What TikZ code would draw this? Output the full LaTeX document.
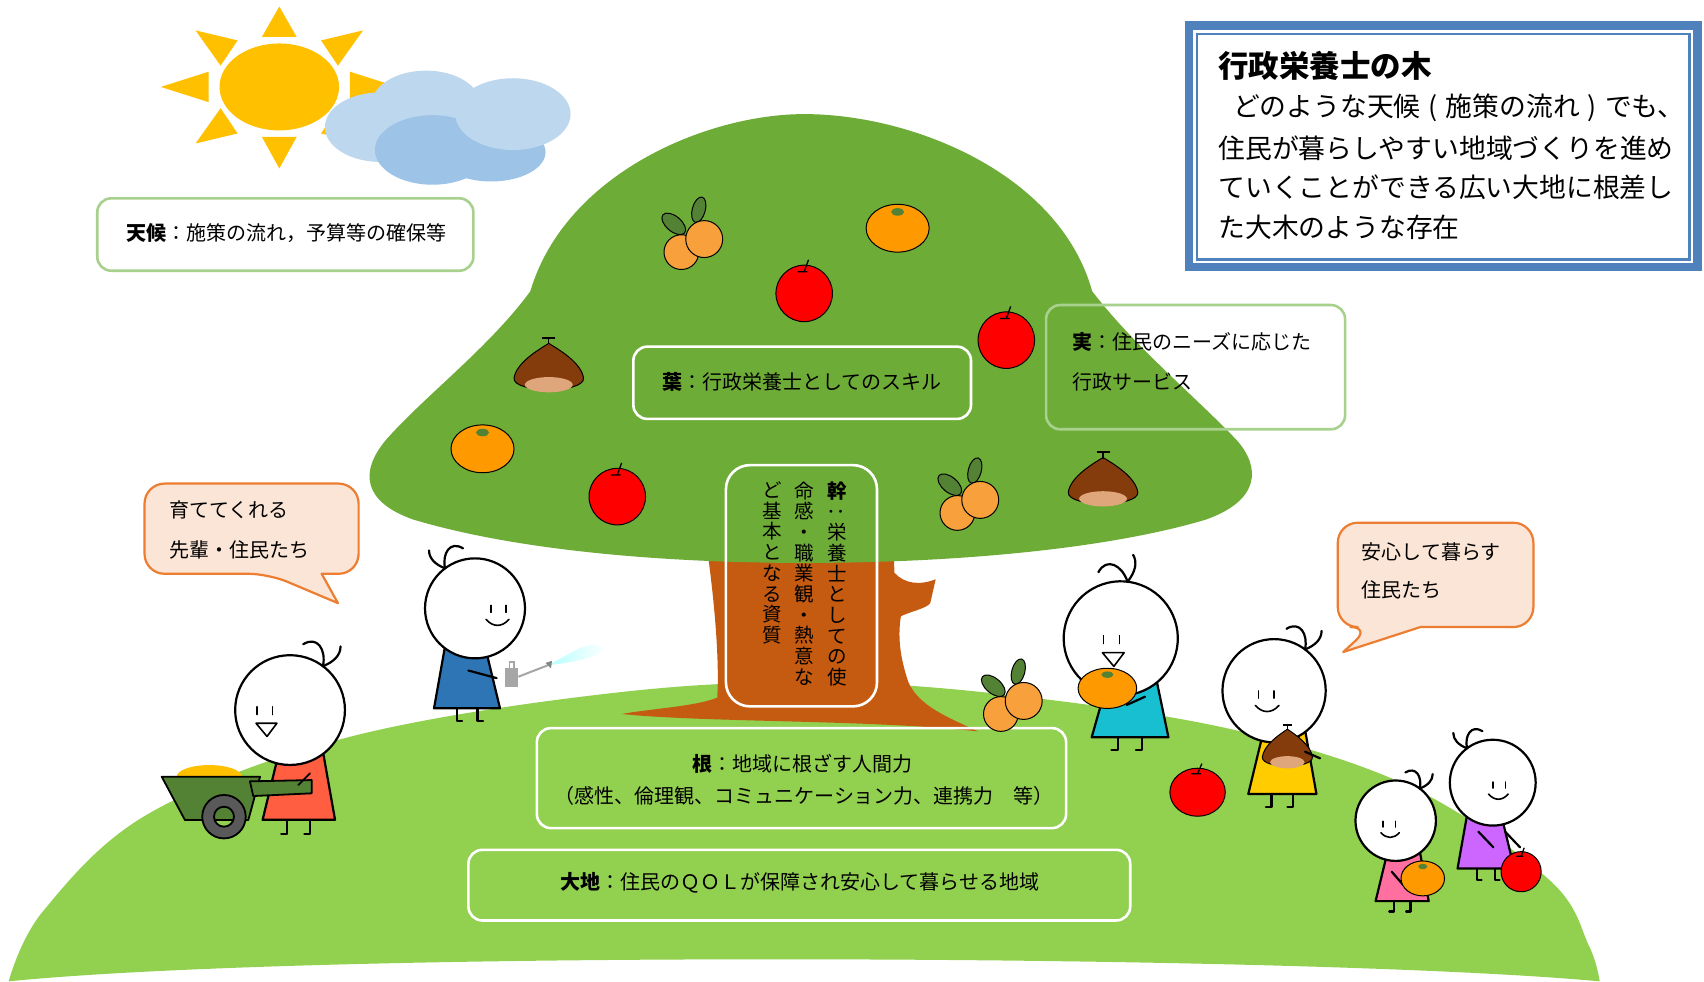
\documentclass[tikz,border=0pt]{standalone}
\usepackage{fontspec}
\setmainfont{Noto Sans CJK JP}
\usepackage{graphicx}
\definecolor{groundgreen}{HTML}{92D050}
\definecolor{crowngreen}{HTML}{6EAC38}
\definecolor{trunkbrown}{HTML}{C55A11}
\definecolor{sunyellow}{HTML}{FFC000}
\definecolor{cloudlight}{HTML}{BDD7EE}
\definecolor{clouddark}{HTML}{9DC3E6}
\definecolor{frameblue}{HTML}{4F81BD}
\definecolor{softgreen}{HTML}{A9D18E}
\definecolor{bubblefill}{HTML}{FBE5D6}
\definecolor{bubbleline}{HTML}{ED7D31}
\definecolor{applered}{HTML}{FF0000}
\definecolor{mikanorange}{HTML}{FF9900}
\definecolor{kakiorange}{HTML}{F8A03C}
\definecolor{leafgreen}{HTML}{548235}
\definecolor{kuribrown}{HTML}{843C0C}
\definecolor{kuricap}{HTML}{DFA67B}
\definecolor{wheelgray}{HTML}{595959}
\definecolor{cangray}{HTML}{A6A6A6}
\definecolor{kidred}{HTML}{FF5E40}
\definecolor{kidblue}{HTML}{2E75B6}
\definecolor{kidcyan}{HTML}{17BFD0}
\definecolor{kidyellow}{HTML}{FFCC00}
\definecolor{kidpink}{HTML}{FF6FA0}
\definecolor{kidpurple}{HTML}{CC66FF}
\begin{document}
\begin{tikzpicture}[x=1.0867pt,y=-1.0867pt,
  kidline/.style={line width=2.2pt, black, line cap=round, line join=round},
  thinline/.style={line width=1.6pt, black, line cap=round, line join=round},
  fruitline/.style={line width=1pt, black},
  box/.style={rounded corners=14pt, line width=2.6pt},
  bubble/.style={line width=2.2pt, draw=bubbleline, fill=bubblefill, line join=round},
  txt/.style={inner sep=0pt, font=\fontsize{20}{24}\selectfont},
  bodytxt/.style={inner sep=0pt, anchor=west, font=\fontsize{26.8}{30}\selectfont},
  vtxt/.style={inner sep=0pt, anchor=north, align=center, font=\fontsize{19.5}{20.7}\selectfont},
  pics/kidhead/.style={code={
    \draw[kidline, fill=white] (0,0) circle[radius=50];
    \draw[kidline] (30,-40) .. controls (33,-55) and (25,-68) .. (12,-60);
    \draw[kidline] (30,-40) .. controls (40,-44) and (46,-50) .. (46,-58);
  }},
  pics/beakface/.style={code={
    \draw[thinline] (-30,-3)--(-30,4) (-16,-3)--(-16,4);
    \draw[thinline, fill=white] (-31,12)--(-12,12)--(-21,24)--cycle;
  }},
  pics/smileface/.style={code={
    \draw[thinline] (-31,-3)--(-31,4) (-16,-3)--(-16,4);
    \draw[thinline] (-34,11) .. controls (-27,19) and (-18,19) .. (-11,11);
  }},
  pics/kidbody/.style={code={
    \draw[kidline] (-2.5,100)--(-2.5,113)--(-8,113) (18.4,100)--(18.4,113)--(13,113);
    \draw[kidline, fill=#1] (-10,38)--(30,38)--(41,100)--(-25,100)--cycle;
  }},
  pics/apple/.style={code={
    \draw[fruitline, fill=applered] (0,0) circle[radius=26];
    \draw[line width=1.3pt] (-6,-20)--(3,-20) (0,-20)--(4,-31);
  }},
  pics/mikan/.style={code={
    \draw[fruitline, fill=mikanorange] (0,0) ellipse[x radius=29, y radius=22];
    \fill[leafgreen] (0,-15) ellipse[x radius=6, y radius=3.5];
  }},
  pics/kaki/.style={code={
    \draw[fruitline, fill=leafgreen, rotate around={-40:(-16,-9)}] (-16,-9) ellipse[x radius=13, y radius=7];
    \draw[fruitline, fill=leafgreen, rotate around={75:(7,-22)}] (7,-22) ellipse[x radius=12, y radius=6];
    \draw[fruitline, fill=kakiorange] (-9,17) circle[radius=16];
    \draw[fruitline, fill=kakiorange] (12,5) circle[radius=17];
  }},
  pics/kuri/.style={code={
    \draw[fruitline, fill=kuribrown] (0,-24) .. controls (-10,-18) and (-30,-6) .. (-32,8) .. controls (-33,22) and (33,22) .. (32,8) .. controls (30,-6) and (10,-18) .. (0,-24) -- cycle;
    \fill[kuricap] (0,14) ellipse[x radius=22, y radius=7];
    \draw[line width=1.3pt] (-6,-29)--(6,-29) (0,-29)--(0,-23);
  }}
]
\useasboundingbox (0,0) rectangle (1568,903);
\fill[white] (0,0) rectangle (1568,903);

% ground hill
\fill[groundgreen] plot[smooth, tension=0.6] coordinates {(8,903) (40,838) (138,748) (322,678) (570,637) (770,628) (966,644) (1150,675) (1304,727) (1426,810) (1462,870) (1472,903)}
  .. controls (1200,878) and (300,874) .. (8,903) -- cycle;

% trunk
\fill[trunkbrown] (650,490) -- (652,515) .. controls (658,560) and (662,610) .. (660,642)
  .. controls (640,650) and (600,652) .. (572,657) .. controls (650,665) and (800,662) .. (900,673)
  .. controls (872,660) and (846,650) .. (836,628) .. controls (828,605) and (826,585) .. (829,567)
  .. controls (840,562) and (852,560) .. (856,555) -- (861,533)
  .. controls (846,539) and (832,537) .. (823,527) -- (822,490) -- cycle;

% crown
\fill[crowngreen] (740,105) .. controls (650,105) and (520,160) .. (488,268)
  .. controls (450,320) and (390,365) .. (355,405) .. controls (330,435) and (335,462) .. (380,478)
  .. controls (480,508) and (620,518) .. (740,518) .. controls (880,518) and (1020,505) .. (1110,478)
  .. controls (1160,460) and (1160,430) .. (1138,405) .. controls (1100,365) and (1045,320) .. (1005,268)
  .. controls (975,160) and (840,105) .. (740,105) -- cycle;

% sun
\fill[sunyellow] (257,80) ellipse[x radius=55, y radius=40];
\fill[sunyellow] (257,6)--(241,34)--(273,34)--cycle;
\fill[sunyellow] (257,155)--(241,126)--(273,126)--cycle;
\fill[sunyellow] (148,80)--(192,66)--(192,94)--cycle;
\fill[sunyellow] (366,80)--(322,66)--(322,94)--cycle;
\fill[sunyellow] (180,28)--(218.6,37.2)--(203,60.4)--cycle;
\fill[sunyellow] (334,28)--(295.4,37.2)--(311,60.4)--cycle;
\fill[sunyellow] (180,132)--(218.6,122.8)--(203,99.6)--cycle;
\fill[sunyellow] (334,132)--(295.4,122.8)--(311,99.6)--cycle;

% clouds
\fill[cloudlight] (350,117) ellipse[x radius=51, y radius=32];
\fill[cloudlight] (392,96) ellipse[x radius=50, y radius=31];
\fill[clouddark] (398,138) ellipse[x radius=53, y radius=32];
\fill[clouddark] (452,140) ellipse[x radius=50, y radius=27];
\fill[cloudlight] (472,105) ellipse[x radius=53, y radius=33];

% title panel
\fill[white] (1094.3,23.5) rectangle (1562,246);
\draw[frameblue, line width=8.2pt] (1094.3,23.5) rectangle (1562,246);
\draw[frameblue, line width=2.4pt] (1101.6,31.1) rectangle (1554.8,238.7);
\node[inner sep=0pt, anchor=west, font=\fontsize{30.5}{34}\selectfont\bfseries] (title) at (1121,61) {行政栄養士の木};
\node[bodytxt] (line1) at (1121,99) {\hspace{0.55em}どのような天候\hspace{0.3em}(\hspace{0.3em}施策の流れ\hspace{0.3em})\hspace{0.3em}でも、};
\node[bodytxt] (line2) at (1121,136) {住民が暮らしやすい地域づくりを進め};
\node[bodytxt] (line3) at (1121,172.5) {ていくことができる広い大地に根差し};
\node[bodytxt] (line4) at (1121,209) {た大木のような存在};

% weather box
\draw[box, draw=softgreen, fill=white] (89.5,182.5) rectangle (435.6,249.1);
\node[txt, anchor=west] (weathertxt) at (116.6,214) {\textbf{天候}：施策の流れ，予算等の確保等};

% leaf box
\draw[box, draw=white] (582.8,319) rectangle (893.5,385.5);
\node[txt] (leaftxt) at (738,351) {\textbf{葉}：行政栄養士としてのスキル};

% fruit box
\draw[box, draw=softgreen] (962.6,280.7) rectangle (1237.7,395);
\node[txt, anchor=west] (fruittxt1) at (987,315) {\textbf{実}：住民のニーズに応じた};
\node[txt, anchor=west] (fruittxt2) at (987,351) {行政サービス};

% trunk box with vertical text
\draw[box, rounded corners=24pt, draw=white] (668,428) rectangle (807,650);
\node[vtxt] (trunkcol1) at (770,443) {\textbf{幹}\\\rotatebox[origin=c]{90}{：}\\栄\\養\\士\\と\\し\\て\\の\\使};
\node[vtxt] (trunkcol2) at (740,443) {命\\感\\・\\職\\業\\観\\・\\熱\\意\\な};
\node[vtxt] (trunkcol3) at (711,443) {ど\\基\\本\\と\\な\\る\\資\\質};

% root box
\draw[box, draw=white] (494,670) rectangle (981,762);
\node[txt] (roottxt1) at (738,703) {\textbf{根}：地域に根ざす人間力};
\node[txt] (roottxt2) at (740,732) {（感性、倫理観、コミュニケーション力、連携力　等）};

% ground box
\draw[box, draw=white] (431,782) rectangle (1040,847);
\node[txt] (groundtxt) at (736,812) {\textbf{大地}：住民のＱＯＬが保障され安心して暮らせる地域};

% fruits on the crown
\path (636,215) pic {kaki};
\path (826,210) pic {mikan};
\path (740,270) pic {apple};
\path (926,313) pic {apple};
\path (505,340) pic {kuri};
\path (444,413) pic {mikan};
\path (568,457) pic {apple};
\path (890,455) pic {kaki};
\path (1015,445) pic {kuri};

% fruits on the ground
\path (930,640) pic {kaki};
\path (1102,729) pic[xscale=0.98, yscale=0.85] {apple};

% child with the wheelbarrow
\path (266.9,653.4) pic[scale=1.01] {kidbody=kidred};
\path (266.9,653.4) pic[scale=1.01] {kidhead};
\path (266.9,653.4) pic[scale=1.01] {beakface};
\fill[sunyellow] (192.6,714.7) ellipse[x radius=30, y radius=10.7];
\draw[kidline, line width=1.8pt, fill=leafgreen] (148.8,714.7)--(239.3,714.7)--(228.5,754.6)--(170.2,754.6)--cycle;
\draw[kidline, line width=1.8pt, fill=leafgreen] (230,719)--(286.8,717.8)--(286.8,730)--(233,732.5)--cycle;
\draw[line width=1.8pt, fill=wheelgray, even odd rule] (206.1,751.5) circle[radius=20] (206.1,751.5) circle[radius=9.2];
\draw[kidline, line width=1.8pt] (274.5,722.4)--(285.3,711.6);

% child with the watering can
\path (437.1,559.8) pic[xscale=-0.92, yscale=0.92] {kidbody=kidblue};
\path (437.1,559.8) pic[xscale=-0.92, yscale=0.92] {kidhead};
\path (437.1,559.8) pic[xscale=-0.92, yscale=0.92] {smileface};
\shade[left color=cyan!35, right color=white, fill opacity=0.8] (504.6,612) -- (532,597) .. controls (545,592) and (552,592) .. (558,598) .. controls (545,606) and (525,610) .. (504.6,612) -- cycle;
\draw[cangray, line width=2pt] (477,622.7) -- (504.6,612);
\fill[cangray!80!black] (502,610) -- (508,608) -- (507,615) -- cycle;
\fill[cangray] (464.7,614.7) rectangle (476.7,632.2);
\draw[cangray, line width=1.5pt] (469,614.7) -- (469,609) -- (473,609) -- (473,614.7);
\draw[kidline] (431,617) -- (457,624);

% child holding a mandarin
\path (1031.3,587.4) pic[xscale=1.07, yscale=0.91] {kidbody=kidcyan};
\path (1031.3,587.4) pic[scale=1.05, rotate=30] {kidhead};
\path (1047,588) pic[scale=1.05] {beakface};
\path (1019,633.4) pic[xscale=0.93, yscale=0.84] {mikan};
\draw[kidline] (1036.8,648.7) -- (1053.6,641.1);

% child holding a chestnut
\path (1172.4,635.6) pic[scale=0.95] {kidbody=kidyellow};
\path (1172.4,635.6) pic[scale=0.95] {kidhead};
\path (1187.4,638.6) pic[scale=0.95] {smileface};
\path (1184.6,690.2) pic[xscale=0.72, yscale=0.8] {kuri};
\draw[kidline] (1200.9,691.7) -- (1214.7,697.8);

% child holding a mandarin (small)
\path (1284.3,755.2) pic[scale=0.74] {kidbody=kidpink};
\path (1284.3,755.2) pic[scale=0.74] {kidhead};
\path (1295.8,758) pic[scale=0.74] {smileface};
\draw[kidline] (1280.6,802.1) -- (1291.3,814.4);
\path (1309.2,808.3) pic[xscale=0.69, yscale=0.73] {mikan};

% child holding an apple
\path (1373.6,720.2) pic[xscale=-0.79, yscale=0.79] {kidbody=kidpurple};
\path (1373.6,720.2) pic[xscale=-0.79, yscale=0.79] {kidhead};
\path (1361,722) pic[xscale=-0.79, yscale=0.79] {smileface};
\draw[kidline] (1360.4,765.3) -- (1374.2,779.7);
\draw[kidline] (1385,765.3) -- (1398.7,779.7);
\path (1399.7,802.1) pic[scale=0.71] {apple};

% speech bubbles
\draw[bubble] (133,486) [rounded corners=20pt] -- (133,528) -- (247,528) [sharp corners] -- (311,555) -- (296,528) [rounded corners=20pt] -- (330,528) -- (330,445) -- (133,445) -- (133,486);
\node[txt, anchor=west] (lefttxt1) at (155.8,469.3) {育ててくれる};
\node[txt, anchor=west] (lefttxt2) at (155.8,506) {先輩・住民たち};

\draw[bubble] (1231,530) [rounded corners=20pt] -- (1231,577) -- (1261,577) [sharp corners] -- (1236,600) -- (1307,577) [rounded corners=20pt] -- (1411,577) -- (1411,481) -- (1231,481) -- (1231,530);
\node[txt, anchor=west] (righttxt1) at (1253,507.6) {安心して暮らす};
\node[txt, anchor=west] (righttxt2) at (1253,543) {住民たち};
\end{tikzpicture}
\end{document}
